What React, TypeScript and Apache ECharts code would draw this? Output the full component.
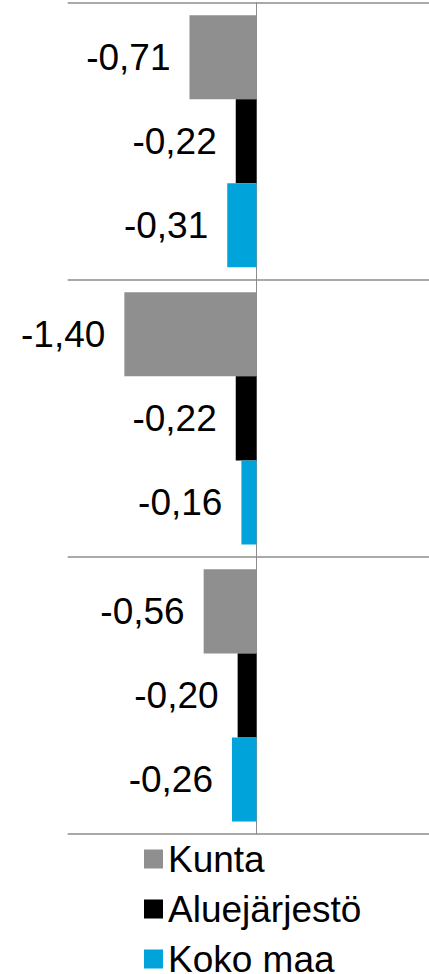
import React, { useEffect, useRef } from "react";
import * as echarts from "echarts";

const categories = ["Ryhmä 1", "Ryhmä 2", "Ryhmä 3"];
const seriesNames = ["Kunta", "Aluejärjestö", "Koko maa"];
const kunta = [-0.71, -1.4, -0.56];
const aluejarjesto = [-0.22, -0.22, -0.2];
const kokoMaa = [-0.31, -0.16, -0.26];
const colors = ["#8F8F8F", "#000000", "#00A3DA"];

const fmt = (v: number) => v.toFixed(2).replace(".", ",");

export default function App() {
  const ref = useRef<HTMLDivElement>(null);
  useEffect(() => {
    if (!ref.current) return;
    const chart = echarts.init(ref.current, undefined, { renderer: "svg" });
    const values = [kunta, aluejarjesto, kokoMaa];
    chart.setOption({
      animation: false,
      textStyle: { fontFamily: "Liberation Sans, Arial, sans-serif" },
      grid: { left: 67.7, top: 2.7, right: 0, height: 831.3 },
      xAxis: {
        type: "value",
        min: -2,
        max: 1.827,
        axisLine: { show: false },
        axisTick: { show: false },
        axisLabel: { show: false },
        splitLine: { show: false },
      },
      yAxis: {
        type: "category",
        data: categories,
        inverse: true,
        axisLine: { show: true, onZero: true, lineStyle: { color: "#8C8C8C", width: 1 } },
        axisTick: { show: false },
        axisLabel: { show: false },
        splitLine: { show: true, lineStyle: { color: "#8C8C8C", width: 1.5 } },
      },
      legend: {
        orient: "vertical",
        left: 144,
        top: 839,
        height: 160,
        padding: 0,
        itemWidth: 19,
        itemHeight: 19,
        itemGap: 10,
        icon: "rect",
        data: seriesNames,
        textStyle: { fontSize: 37, color: "#000", lineHeight: 40, fontFamily: "Liberation Sans, Arial, sans-serif" },
      },
      series: seriesNames.map((name, i) => ({
        name,
        type: "bar",
        data: values[i],
        itemStyle: { color: colors[i] },
        barGap: "0%",
        barCategoryGap: "9%",
        label: {
          show: true,
          position: "left",
          distance: 19,
          fontSize: 37,
          color: "#000",
          fontFamily: "Liberation Sans, Arial, sans-serif",
          formatter: (p: any) => fmt(p.value),
        },
      })),
    });
    return () => chart.dispose();
  }, []);
  return (
    <div
      ref={ref}
      style={{ position: "fixed", left: 0, top: 0, width: 429, height: 974, background: "#fff" }}
    />
  );
}
